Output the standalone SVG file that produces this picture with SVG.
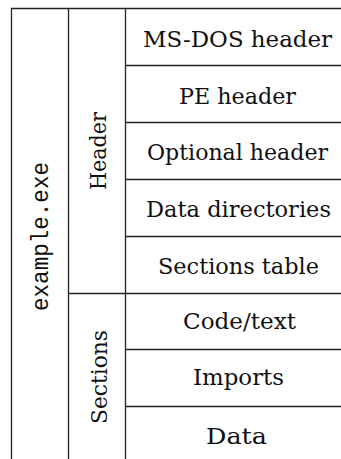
<svg xmlns="http://www.w3.org/2000/svg" width="341" height="459" viewBox="0 0 341 459">
<style>
.ln{stroke:#222;stroke-width:1.3;fill:none}
.m{font-family:'Liberation Mono','Courier New',monospace;font-size:23px;fill:#111;text-anchor:middle}
</style>
<rect width="341" height="459" fill="#fff"/>
<g id="grid">
<path class="ln" d="M11,8.5H341M125,65.5H341M125,122.5H341M125,179.5H341M125,236.5H341M68,293.5H341M125,349.5H341M125,406.5H341"/>
<path class="ln" d="M11.5,8V459M68.5,8V459M125.5,8V459"/>
</g>
<g font-family="DejaVu Serif, serif" font-size="22.5" fill="#111" text-anchor="middle">
<g id="example_exe"><text class="m" transform="translate(48,236.5) rotate(-90)" textLength="149" lengthAdjust="spacingAndGlyphs">example.exe</text></g>
<g id="header"><text transform="translate(106,151) rotate(-90)" textLength="78" lengthAdjust="spacingAndGlyphs">Header</text></g>
<g id="sections"><text transform="translate(106.5,377) rotate(-90)" textLength="94" lengthAdjust="spacingAndGlyphs">Sections</text></g>
<g id="msdos"><text x="237.5" y="47" textLength="189" lengthAdjust="spacingAndGlyphs">MS-DOS header</text></g>
<g id="pe"><text x="237.5" y="103.5" textLength="117" lengthAdjust="spacingAndGlyphs">PE header</text></g>
<g id="optional"><text x="237.5" y="160" textLength="181" lengthAdjust="spacingAndGlyphs">Optional header</text></g>
<g id="datadir"><text x="238.5" y="216.5" textLength="185" lengthAdjust="spacingAndGlyphs">Data directories</text></g>
<g id="sectable"><text x="238.5" y="273.5" textLength="161" lengthAdjust="spacingAndGlyphs">Sections table</text></g>
<g id="code"><text x="239.5" y="328.5" textLength="113" lengthAdjust="spacingAndGlyphs">Code/text</text></g>
<g id="imports"><text x="238.5" y="384.5" textLength="91" lengthAdjust="spacingAndGlyphs">Imports</text></g>
<g id="data"><text x="236.5" y="443.5" textLength="61" lengthAdjust="spacingAndGlyphs">Data</text></g>
</g>
</svg>
